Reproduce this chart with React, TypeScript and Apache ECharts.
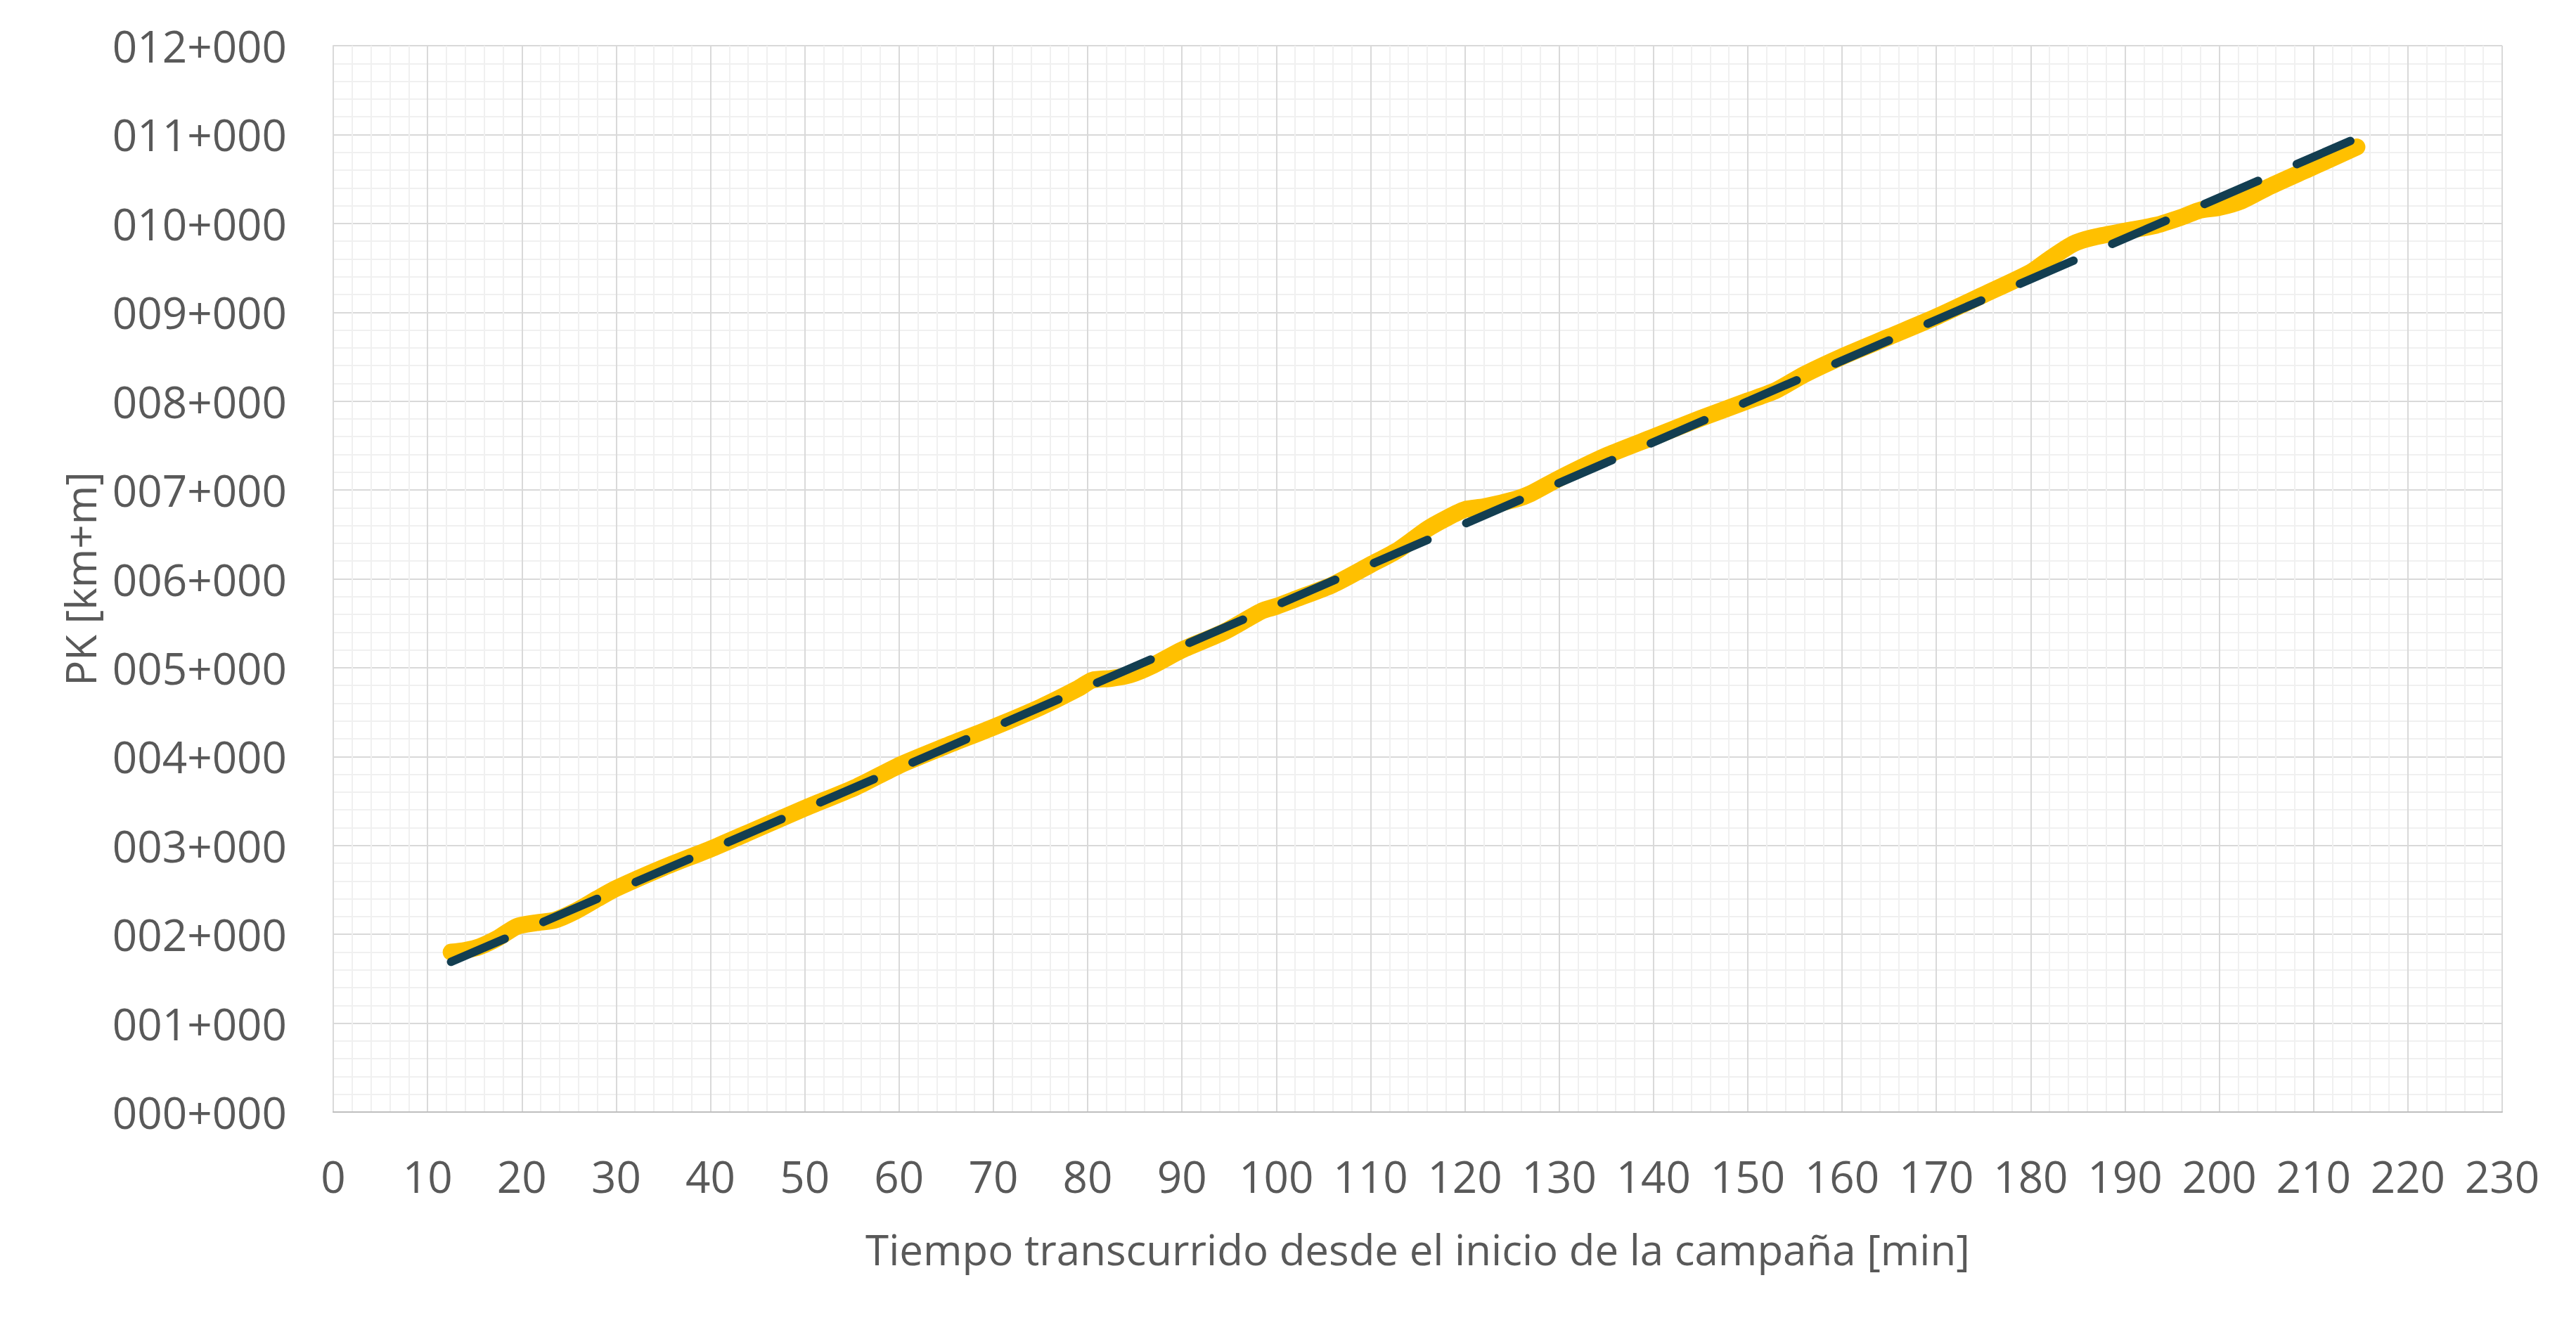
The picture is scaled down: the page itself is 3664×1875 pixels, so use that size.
import React, { useEffect, useRef } from "react";
import * as echarts from "echarts";

// Elapsed time since campaign start [min]
const timeMin: number[] = [
  12.5, 14, 15.5, 17.5, 19.5, 21.5, 23.5, 25.5, 28, 30, 35, 40, 44.6, 50, 55.5, 60, 65, 70, 75, 79,
  80.5, 82.5, 84.5, 86.8, 90, 94.5, 98.5, 100, 102, 106, 110, 113, 116, 118, 120, 122, 125.5, 127,
  130, 135, 140, 145, 150, 153, 156, 160, 165, 170, 175, 180, 182, 184.5, 186.5, 190, 193.3, 196,
  198, 200, 202.4, 205.3, 209.7, 214.6,
];
// PK reached [m]
const pkMeters: number[] = [
  1800, 1820, 1860, 1960, 2090, 2130, 2160, 2250, 2400, 2516, 2750, 2960, 3170, 3419, 3660, 3900,
  4120, 4330, 4556, 4767, 4860, 4880, 4920, 5020, 5200, 5405, 5640, 5690, 5770, 5934, 6159, 6330,
  6560, 6680, 6780, 6810, 6900, 6960, 7130, 7386, 7596, 7806, 8003, 8121, 8300, 8500, 8724, 8948,
  9197, 9450, 9600, 9770, 9840, 9913, 9979, 10070, 10150, 10180, 10255, 10413, 10624, 10860,
];
// Linear trend line end points
const trendTime: number[] = [12.5, 214.6];
const trendPk: number[] = [1690, 10960];

const xAxisTitle = "Tiempo transcurrido desde el inicio de la campaña [min]";
const yAxisTitle = "PK [km+m]";

const pad3 = (n: number) => String(n).padStart(3, "0");
const pkLabel = (v: number) => `${pad3(Math.floor(v / 1000))}+${pad3(Math.round(v % 1000))}`;

export default function App() {
  const ref = useRef<HTMLDivElement>(null);

  useEffect(() => {
    if (!ref.current) return;
    const chart = echarts.init(ref.current, null, { renderer: "svg" });
    const font = "'Open Sans', 'Noto Sans', sans-serif";
    const textColor = "#595959";
    chart.setOption({
      animation: false,
      backgroundColor: "#ffffff",
      grid: { left: 474, right: 105, top: 65, bottom: 293, containLabel: false },
      xAxis: {
        type: "value",
        min: 0,
        max: 230,
        interval: 10,
        name: xAxisTitle,
        nameLocation: "middle",
        nameGap: 165,
        nameTextStyle: { fontFamily: font, fontSize: 60, color: textColor },
        axisLine: { show: true, lineStyle: { color: "#BFBFBF", width: 2 } },
        axisTick: { show: false },
        axisLabel: { fontFamily: font, fontSize: 62, color: textColor, margin: 60 },
        splitLine: { show: true, lineStyle: { color: "#D9D9D9", width: 2 } },
        minorTick: { show: false, splitNumber: 5 },
        minorSplitLine: { show: true, lineStyle: { color: "#F0F0F0", width: 2 } },
      },
      yAxis: {
        type: "value",
        min: 0,
        max: 12000,
        interval: 1000,
        name: yAxisTitle,
        nameLocation: "middle",
        nameGap: 330,
        nameTextStyle: { fontFamily: font, fontSize: 60, color: textColor },
        axisLine: { show: true, lineStyle: { color: "#D9D9D9", width: 2 } },
        axisTick: { show: false },
        axisLabel: { fontFamily: font, fontSize: 62, color: textColor, margin: 66, formatter: pkLabel },
        splitLine: { show: true, lineStyle: { color: "#D9D9D9", width: 2 } },
        minorTick: { show: false, splitNumber: 5 },
        minorSplitLine: { show: true, lineStyle: { color: "#F0F0F0", width: 2 } },
      },
      series: [
        {
          type: "line",
          data: timeMin.map((t, i) => [t, pkMeters[i]]),
          showSymbol: false,
          smooth: 0.25,
          lineStyle: { color: "#FFC000", width: 24, cap: "round", join: "round" },
          z: 2,
        },
        {
          type: "line",
          data: trendTime.map((t, i) => [t, trendPk[i]]),
          showSymbol: false,
          lineStyle: { color: "#133E51", width: 12, type: [83, 60], cap: "round" },
          z: 3,
        },
      ],
    });
    return () => chart.dispose();
  }, []);

  return (
    <div
      ref={ref}
      style={{ position: "absolute", left: 0, top: 0, width: "3664px", height: "1875px" }}
    />
  );
}
